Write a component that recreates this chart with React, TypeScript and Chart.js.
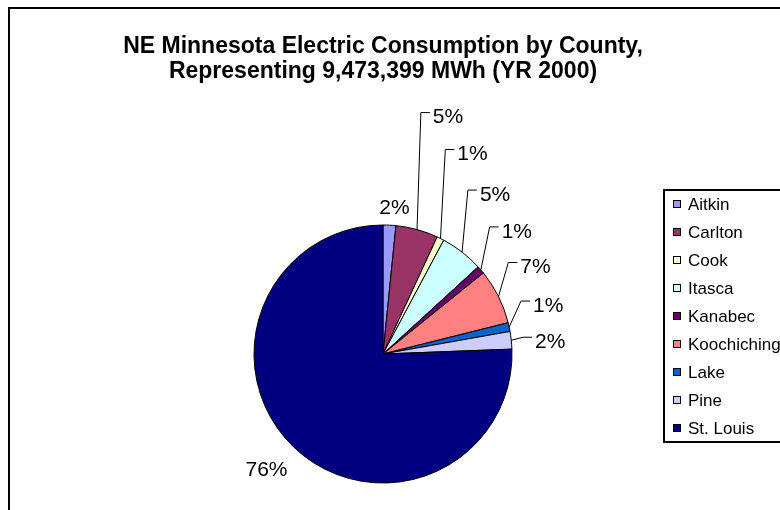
import React, { useEffect, useRef } from "react";
import { Chart, registerables } from "chart.js";

Chart.register(...registerables);

const titleLines = [
  "NE Minnesota Electric Consumption by County,",
  "Representing 9,473,399 MWh (YR 2000)",
];
const counties = ["Aitkin", "Carlton", "Cook", "Itasca", "Kanabec", "Koochiching", "Lake", "Pine", "St. Louis"];
const shares = [1.6, 5.3, 0.9, 5.4, 1.0, 6.9, 1.1, 2.2, 75.6];
const sliceColors = ["#9999FF", "#993366", "#FFFFCC", "#CCFFFF", "#660066", "#FF8080", "#0066CC", "#CCCCFF", "#000080"];
// label centre offset from the slice's mid-arc point
const labelOffsets: [number, number][] = [
  [5, -17], [31, -112], [32, -84], [33, -57], [36, -38], [37, -29], [39, -21], [39, 2], [-27, 23],
];
const hasLeader = [false, true, true, true, true, true, true, true, false];

const FONT = '"Liberation Sans", Arial, Helvetica, sans-serif';
const OX = 10;
const OY = 9;
const CW = 770;
const CH = 501;

const excelPlugin = {
  id: "excelDecor",
  afterDraw(chart: any) {
    const ctx = chart.ctx as CanvasRenderingContext2D;
    ctx.save();
    ctx.fillStyle = "#000";
    ctx.strokeStyle = "#000";
    // title
    ctx.font = `bold 23px ${FONT}`;
    ctx.textAlign = "center";
    ctx.textBaseline = "middle";
    ctx.fillText(titleLines[0], 383 - OX, 47 - OY);
    ctx.fillText(titleLines[1], 383 - OX, 72 - OY);

    // data labels
    const meta = chart.getDatasetMeta(0);
    const total = shares.reduce((a, b) => a + b, 0);
    ctx.font = `21px ${FONT}`;
    ctx.lineWidth = 1;
    meta.data.forEach((arc: any, i: number) => {
      const p = arc.getProps(["x", "y", "startAngle", "endAngle", "outerRadius"], true);
      const mid = (p.startAngle + p.endAngle) / 2;
      const ax = p.x + p.outerRadius * Math.cos(mid);
      const ay = p.y + p.outerRadius * Math.sin(mid);
      const text = Math.round((shares[i] / total) * 100) + "%";
      const cx = ax + labelOffsets[i][0];
      const cy = ay + labelOffsets[i][1];
      const w = ctx.measureText(text).width;
      if (hasLeader[i]) {
        const left = cx - w / 2;
        ctx.beginPath();
        ctx.moveTo(ax, ay);
        ctx.lineTo(left - 12, cy - 5);
        ctx.lineTo(left - 3, cy - 5);
        ctx.stroke();
      }
      ctx.fillText(text, cx, cy);
    });

    // legend
    ctx.lineWidth = 2;
    ctx.strokeRect(664 - OX, 190 - OY, 200, 252);
    ctx.font = `17px ${FONT}`;
    ctx.textAlign = "left";
    ctx.lineWidth = 1;
    counties.forEach((name, i) => {
      const cy = 204 + 28 * i - OY;
      const mx = 673 - OX;
      ctx.fillStyle = sliceColors[i];
      ctx.fillRect(mx + 0.5, cy - 3.5, 7, 7);
      ctx.strokeStyle = "#000";
      ctx.strokeRect(mx + 0.5, cy - 3.5, 7, 7);
      ctx.fillStyle = "#000";
      ctx.fillText(name, 688 - OX, cy + 1);
    });
    ctx.restore();
  },
};

export default function App() {
  const ref = useRef<HTMLCanvasElement>(null);
  useEffect(() => {
    if (!ref.current) return;
    const chart = new Chart(ref.current, {
      type: "pie",
      data: {
        labels: counties,
        datasets: [
          {
            data: shares,
            backgroundColor: sliceColors,
            borderColor: "#000",
            borderWidth: 1,
            radius: 129,
            hoverOffset: 0,
            offset: 0,
          } as any,
        ],
      },
      options: {
        animation: false,
        responsive: false,
        events: [],
        layout: { padding: { left: 373 - OX - 129 + 10, right: CW - (373 - OX + 129) - 10, top: 354 - OY - 129, bottom: CH - (354 - OY + 129) } },
        plugins: {
          legend: { display: false },
          title: { display: false },
          tooltip: { enabled: false },
        },
      },
      plugins: [excelPlugin],
    });
    return () => chart.destroy();
  }, []);
  return (
    <div
      style={{
        position: "fixed",
        left: 8,
        top: 7,
        width: 772,
        height: 503,
        borderLeft: "2px solid #000",
        borderTop: "2px solid #000",
        boxSizing: "border-box",
        overflow: "hidden",
        background: "#fff",
      }}
    >
      <canvas ref={ref} width={CW} height={CH} style={{ display: "block", width: CW, height: CH }} />
    </div>
  );
}
